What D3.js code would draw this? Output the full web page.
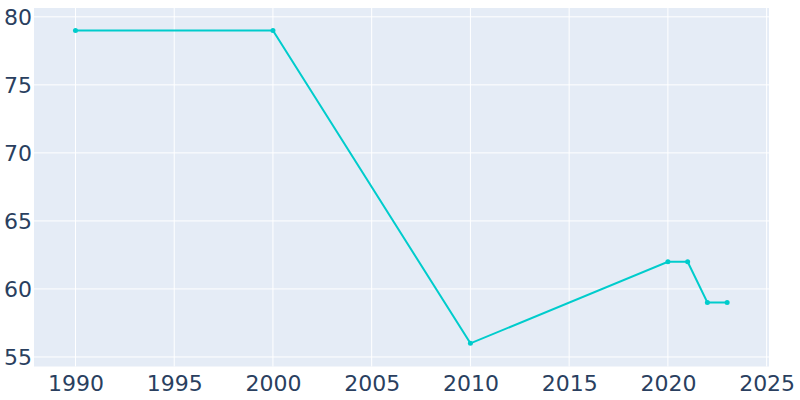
<!DOCTYPE html>
<html><head><meta charset="utf-8">
<script src="https://cdn.jsdelivr.net/npm/d3@7"></script>
<style>body{margin:0;background:#fff}svg{display:block}</style>
</head><body>
<svg id="c" width="800" height="400"></svg>
<script>
const years = [1990, 2000, 2010, 2020, 2021, 2022, 2023];
const values = [79, 79, 56, 62, 62, 59, 59];
const xTicks = [1990, 1995, 2000, 2005, 2010, 2015, 2020, 2025];
const yTicks = [55, 60, 65, 70, 75, 80];

const svg = d3.select("#c");
const L = 34, R = 769, T = 8, B = 366.5;
const x = d3.scaleLinear().domain([1987.9, 2025.12]).range([L, R]);
const y = d3.scaleLinear().domain([54.3, 80.65]).range([B, T]);

svg.append("rect").attr("x", L).attr("y", T).attr("width", R - L).attr("height", B - T).attr("fill", "#e5ecf6");

const g = svg.append("g");
g.selectAll(".vg").data(xTicks).join("line")
  .attr("x1", d => x(d)).attr("x2", d => x(d)).attr("y1", T).attr("y2", B)
  .attr("stroke", "#fff").attr("stroke-width", 1);
g.selectAll(".hg").data(yTicks).join("line")
  .attr("y1", d => y(d)).attr("y2", d => y(d)).attr("x1", L).attr("x2", R)
  .attr("stroke", "#fff").attr("stroke-width", 1);

const font = "'DejaVu Sans', sans-serif";
const xa = svg.append("g").attr("transform", `translate(0,${B})`)
  .call(d3.axisBottom(x).tickValues(xTicks).tickFormat(d3.format("d")).tickSize(0).tickPadding(0));
xa.select(".domain").remove();
xa.selectAll("text").attr("font-family", font).attr("font-size", 22).attr("fill", "#2a3f5f")
  .attr("dy", null).attr("y", 24);

const ya = svg.append("g").attr("transform", `translate(${L},0)`)
  .call(d3.axisLeft(y).tickValues(yTicks).tickSize(0).tickPadding(2));
ya.select(".domain").remove();
ya.selectAll("text").attr("font-family", font).attr("font-size", 22).attr("fill", "#2a3f5f")
  .attr("dy", "0.36em");

const data = years.map((d, i) => ({x: d, y: values[i]}));
svg.append("path").datum(data)
  .attr("d", d3.line().x(d => x(d.x)).y(d => y(d.y)))
  .attr("fill", "none").attr("stroke", "#00cccc").attr("stroke-width", 2);
svg.selectAll(".pt").data(data).join("circle")
  .attr("cx", d => x(d.x)).attr("cy", d => y(d.y)).attr("r", 2.5).attr("fill", "#00cccc");
</script>
</body></html>
